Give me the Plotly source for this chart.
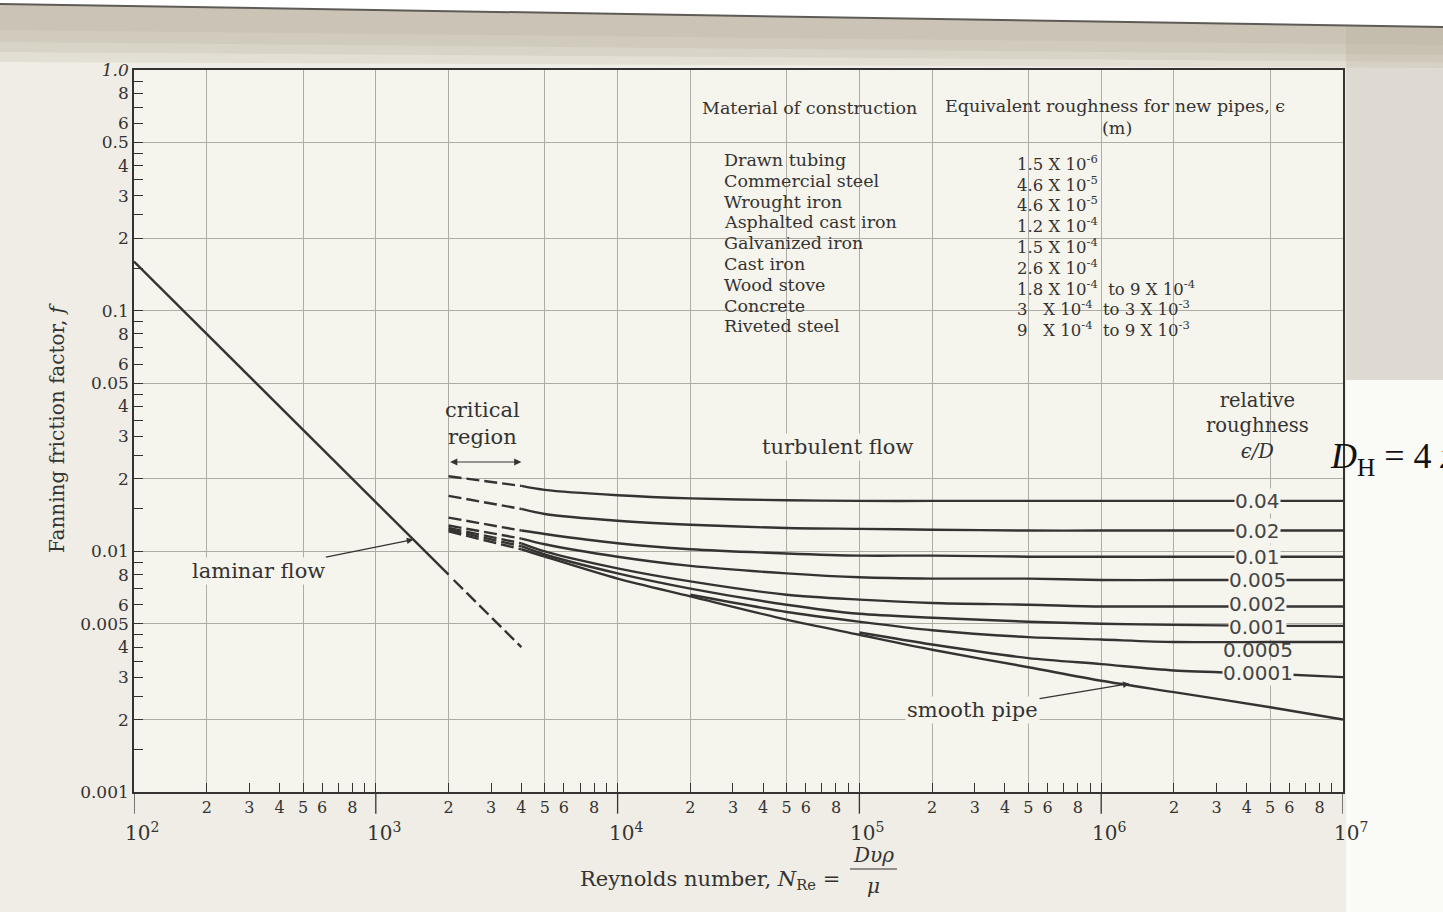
import numpy as np
import plotly.graph_objects as go

# ---------------- data ----------------
# laminar flow line (f = 16/Re), solid then dashed into the critical region
re_laminar = [100, 2000]
f_laminar = [0.16, 0.008]
re_laminar_ext = [2100, 4000]
f_laminar_ext = [0.0076, 0.004]

# critical region (dashed) Re 2000 -> 4000
re_critical = [2000, 4000]
crit_0_04 = [0.0205, 0.0187]
crit_0_02 = [0.0170, 0.0150]
crit_0_01 = [0.0138, 0.0122]
crit_0_005 = [0.0128, 0.0113]
crit_0_002 = [0.0125, 0.0108]
crit_0_001 = [0.0123, 0.0105]
crit_smooth = [0.0121, 0.0102]

# turbulent flow curves
re_turb = [4e3, 5e3, 1e4, 2e4, 5e4, 1e5, 2e5, 5e5, 1e6, 2e6, 5e6, 1e7]
f_0_04 = [0.0187, 0.0180, 0.0171, 0.0166, 0.0163, 0.0162, 0.0162, 0.0162, 0.0162, 0.0162, 0.0162, 0.0162]
f_0_02 = [0.0150, 0.0143, 0.0134, 0.0129, 0.0125, 0.0124, 0.0123, 0.0122, 0.0122, 0.0122, 0.0122, 0.0122]
f_0_01 = [0.0122, 0.0118, 0.0108, 0.0102, 0.0098, 0.0096, 0.0096, 0.0095, 0.0095, 0.0095, 0.0095, 0.0095]
f_0_005 = [0.0113, 0.0107, 0.0095, 0.0087, 0.0081, 0.0078, 0.0077, 0.0077, 0.0076, 0.0076, 0.0076, 0.0076]
f_0_002 = [0.0108, 0.0100, 0.0085, 0.0075, 0.0066, 0.0063, 0.0061, 0.0060, 0.0059, 0.0059, 0.0059, 0.0059]
f_0_001 = [0.0105, 0.0097, 0.0081, 0.0070, 0.0060, 0.0055, 0.0053, 0.0051, 0.0050, 0.00495, 0.0049, 0.0049]
f_smooth = [0.0102, 0.0095, 0.0077, 0.0065, 0.0052, 0.0045, 0.0039, 0.0033, 0.0029, 0.0026, 0.00225, 0.0020]

re_0_0005 = [2e4, 5e4, 1e5, 2e5, 5e5, 1e6, 2e6, 5e6, 1e7]
f_0_0005 = [0.0066, 0.0056, 0.0051, 0.0047, 0.0044, 0.0043, 0.0042, 0.0042, 0.0042]
re_0_0001 = [1e5, 2e5, 5e5, 1e6, 2e6, 5e6, 1e7]
f_0_0001 = [0.0046, 0.0041, 0.0036, 0.0034, 0.0032, 0.0031, 0.0030]

rough_labels = ["0.04", "0.02", "0.01", "0.005", "0.002", "0.001", "0.0005", "0.0001"]

# table of materials
materials = ["Drawn tubing", "Commercial steel", "Wrought iron", "Asphalted cast iron",
             "Galvanized iron", "Cast iron", "Wood stove", "Concrete", "Riveted steel"]
roughness = ["1.5 X 10<sup>-6</sup>", "4.6 X 10<sup>-5</sup>", "4.6 X 10<sup>-5</sup>",
             "1.2 X 10<sup>-4</sup>", "1.5 X 10<sup>-4</sup>", "2.6 X 10<sup>-4</sup>",
             "1.8 X 10<sup>-4</sup>  to 9 X 10<sup>-4</sup>",
             "3    X 10<sup>-4</sup>  to 3 X 10<sup>-3</sup>",
             "9    X 10<sup>-4</sup>  to 9 X 10<sup>-3</sup>"]

# axis ticks
x_decades = [1e2, 1e3, 1e4, 1e5, 1e6, 1e7]
x_tick_mantissas = [2, 3, 4, 5, 6, 7, 8, 9]
x_labeled_mantissas = [2, 3, 4, 5, 6, 8]
y_decades = [0.001, 0.01, 0.1]
y_tick_mantissas = [1, 1.5, 2, 2.5, 3, 3.5, 4, 4.5, 5, 6, 7, 8, 9]
y_labeled_digits = [2, 3, 4, 6, 8]
grid_mantissas = [1, 2, 5]

# ---------------- styling ----------------
INK = "#343331"
GRID = "#aeaca5"
PAPER = "#efede5"
PLOTBG = "#f5f4ed"
SERIF = "DejaVu Serif"
SANS = "DejaVu Sans"

L, R, T, B = 134, 100, 70, 120
W, H = 1443, 912
PW, PH = W - L - R, H - T - B


def px_x(px):
    return (px - L) / PW


def px_y(py):
    return (H - B - py) / PH


def note(**kw):
    kw.setdefault("xanchor", "center")
    kw.setdefault("yanchor", "middle")
    kw.setdefault("showarrow", False)
    return kw


def poly(points):
    return "M " + " L ".join(f"{px_x(a):.5f},{px_y(b):.5f}" for a, b in points) + " Z"


fig = go.Figure()

line_style = dict(color=INK, width=2.4)
dash_style = dict(color=INK, width=2.4, dash="13px,5px")

fig.add_trace(go.Scatter(x=re_laminar, y=f_laminar, mode="lines", line=line_style, hoverinfo="skip"))
fig.add_trace(go.Scatter(x=re_laminar_ext, y=f_laminar_ext, mode="lines", line=dash_style, hoverinfo="skip"))

for crit in [crit_0_04, crit_0_02, crit_0_01, crit_0_005, crit_0_002, crit_0_001, crit_smooth]:
    fig.add_trace(go.Scatter(x=re_critical, y=crit, mode="lines", line=dash_style, hoverinfo="skip"))

curves = [
    (re_turb, f_0_04), (re_turb, f_0_02), (re_turb, f_0_01), (re_turb, f_0_005),
    (re_turb, f_0_002), (re_turb, f_0_001), (re_0_0005, f_0_0005), (re_0_0001, f_0_0001),
]
for rx, fy in curves + [(re_turb, f_smooth)]:
    fig.add_trace(go.Scatter(x=rx, y=fy, mode="lines",
                             line=dict(color=INK, width=2.4, shape="spline", smoothing=0.8),
                             hoverinfo="skip"))

# ---------------- axes ----------------
x_tickvals, x_ticktext = [], []
for d in x_decades:
    x_tickvals.append(d)
    x_ticktext.append("")
    if d < 1e7:
        for m in x_tick_mantissas:
            x_tickvals.append(m * d)
            x_ticktext.append(str(m) if m in x_labeled_mantissas else "")
x_grid = [m * d for d in x_decades[:-1] for m in grid_mantissas] + [x_decades[-1]]

y_tickvals, y_ticktext = [], []
for d in y_decades:
    for m in y_tick_mantissas:
        y_tickvals.append(m * d)
        if m == 1 or m == 5:
            y_ticktext.append(f"{m * d:g}")
        elif m in y_labeled_digits:
            y_ticktext.append(str(m))
        else:
            y_ticktext.append("")
y_tickvals.append(1.0)
y_ticktext.append("<i>1.0</i>")
y_grid = [m * d for d in y_decades for m in grid_mantissas] + [1.0]

fig.update_xaxes(
    type="log", range=[2, 7], showgrid=False,
    tickmode="array", tickvals=x_tickvals, ticktext=x_ticktext,
    ticks="inside", ticklen=9, tickwidth=1.2, tickcolor=INK,
    tickfont=dict(family=SERIF, size=16, color=INK),
    showline=True, linecolor=INK, linewidth=1.6, mirror=True,
    minor=dict(tickmode="array", tickvals=x_grid, showgrid=True, gridcolor=GRID, gridwidth=1.2, ticks=""),
)
fig.update_yaxes(
    type="log", range=[-3, 0], showgrid=False,
    tickmode="array", tickvals=y_tickvals, ticktext=y_ticktext,
    ticks="inside", ticklen=9, tickwidth=1.2, tickcolor=INK,
    tickfont=dict(family=SERIF, size=17, color=INK),
    showline=True, linecolor=INK, linewidth=1.6, mirror=True,
    minor=dict(tickmode="array", tickvals=y_grid, showgrid=True, gridcolor=GRID, gridwidth=1.2, ticks=""),
)

shapes = []
annotations = []

# page decoration (scan look): tan shading below a slanted page edge, white above it
shapes.append(dict(type="rect", xref="paper", yref="paper", x0=px_x(1346), x1=px_x(W),
                   y0=px_y(380), y1=px_y(20), fillcolor="#dfdad1", line=dict(width=0), layer="below"))
for bottom_left, bottom_right in [(30, 45), (42, 55), (52, 62), (62, 68)]:
    shapes.append(dict(type="path", xref="paper", yref="paper",
                       path=poly([(0, 4), (W, 27), (W, bottom_right), (0, bottom_left)]),
                       fillcolor="#b5aa98", opacity=0.2, line=dict(width=0), layer="below"))
shapes.append(dict(type="rect", xref="paper", yref="paper", x0=px_x(1346), x1=px_x(W),
                   y0=px_y(H), y1=px_y(380), fillcolor="#fafaf7", line=dict(width=0), layer="below"))
shapes.append(dict(type="path", xref="paper", yref="paper",
                   path=poly([(0, 0), (W, 0), (W, 27), (0, 4)]),
                   fillcolor="#ffffff", line=dict(width=0), layer="below"))
shapes.append(dict(type="line", xref="paper", yref="paper", x0=px_x(0), x1=px_x(W),
                   y0=px_y(4), y1=px_y(27), line=dict(color="#5e5b56", width=2), layer="below"))

# decade tick lines extending below the axis, with decade labels
for d in x_decades:
    shapes.append(dict(type="line", xref="x", yref="paper", x0=d, x1=d, y0=0, y1=-0.03,
                       line=dict(color=INK, width=1.3)))
    annotations.append(note(xref="x", yref="paper", x=np.log10(d), y=px_y(832), xshift=8,
                            text=f"10<sup>{int(np.log10(d))}</sup>",
                            font=dict(family=SERIF, size=20, color=INK)))

# masks over the gridlines (table area and label column)
shapes.append(dict(type="rect", xref="paper", yref="paper", x0=px_x(690), x1=px_x(1306),
                   y0=px_y(345), y1=px_y(86), fillcolor=PLOTBG, line=dict(width=0), layer="between"))
shapes.append(dict(type="rect", xref="paper", yref="paper", x0=px_x(1198), x1=px_x(1322),
                   y0=px_y(690), y1=px_y(388), fillcolor=PLOTBG, line=dict(width=0), layer="between"))

# table
annotations.append(note(xref="paper", yref="paper", x=px_x(700), y=px_y(108), xanchor="left",
                        text="Material of construction",
                        font=dict(family=SERIF, size=17.5, color=INK)))
annotations.append(note(xref="paper", yref="paper", x=px_x(943), y=px_y(106), xanchor="left",
                        text="Equivalent roughness for new pipes, ϵ",
                        font=dict(family=SERIF, size=17.5, color=INK)))
annotations.append(note(xref="paper", yref="paper", x=px_x(1117), y=px_y(128),
                        text="(m)", font=dict(family=SERIF, size=17.5, color=INK)))
for i, (mat, rough) in enumerate(zip(materials, roughness)):
    yy = px_y(160 + i * 20.8)
    annotations.append(note(xref="paper", yref="paper", x=px_x(722), y=yy, xanchor="left",
                            text=mat, font=dict(family=SERIF, size=17.5, color=INK)))
    annotations.append(note(xref="paper", yref="paper", x=px_x(1015), y=yy - 0.004, xanchor="left",
                            text=rough.replace("    ", "\u00a0\u00a0\u00a0").replace("  to", "\u00a0 to"),
                            font=dict(family=SERIF, size=16.5, color=INK)))

# relative roughness labels on the curves
label_re = 4.45e6
label_shift = {"0.002": 2, "0.001": -1, "0.0005": -8}
for lab, (rx, fy) in zip(rough_labels, curves):
    ly = np.interp(np.log10(label_re), np.log10(rx), np.log10(fy))
    extra = {} if lab == "0.0005" else dict(bgcolor=PLOTBG, borderpad=0)
    annotations.append(note(xref="x", yref="y", x=np.log10(label_re), y=ly,
                            yshift=label_shift.get(lab, 0), text=lab,
                            font=dict(family=SANS, size=20, color="#444"), **extra))

annotations.append(note(xref="x", yref="paper", x=np.log10(label_re), y=px_y(426),
                        text="relative<br>roughness<br><i>ϵ/D</i>",
                        font=dict(family=SERIF, size=19.5, color=INK)))

# flow regime labels
annotations.append(note(xref="x", yref="y", x=np.log10(1430), y=np.log10(16 / 1430),
                        ax=-155, ay=31, text="laminar flow", showarrow=True, arrowhead=2,
                        arrowsize=1.1, arrowwidth=1.2, arrowcolor=INK, bgcolor=PLOTBG,
                        font=dict(family=SERIF, size=21, color=INK)))
annotations.append(note(xref="x", yref="y", x=np.log10(1.31e6), y=np.log10(0.00282),
                        ax=-157, ay=26, text="smooth pipe", showarrow=True, arrowhead=2,
                        arrowsize=1.1, arrowwidth=1.2, arrowcolor=INK, bgcolor=PLOTBG,
                        font=dict(family=SERIF, size=21, color=INK)))
annotations.append(note(xref="x", yref="paper", x=np.log10(2750), y=px_y(423),
                        text="critical<br>region",
                        font=dict(family=SERIF, size=21, color=INK)))
annotations.append(note(xref="x", yref="paper", x=np.log10(4000), y=px_y(462),
                        ax=np.log10(2000), ay=0, axref="x", ayref="pixel",
                        text="", showarrow=True, arrowhead=2, arrowside="end+start",
                        arrowsize=1.2, arrowwidth=1.2, arrowcolor=INK))
annotations.append(note(xref="x", yref="paper", x=np.log10(8.15e4), y=px_y(447),
                        text="turbulent flow", bgcolor=PLOTBG,
                        font=dict(family=SERIF, size=21, color=INK)))

# axis titles
annotations.append(note(xref="paper", yref="paper", x=px_x(57), y=px_y(428), textangle=-90,
                        text="Fanning friction factor, <i>f</i>",
                        font=dict(family=SERIF, size=20, color=INK)))
annotations.append(note(xref="paper", yref="paper", x=px_x(842), y=px_y(880), xanchor="right",
                        text="Reynolds number, <i>N</i><sub>Re</sub> =",
                        font=dict(family=SERIF, size=21, color=INK)))
annotations.append(note(xref="paper", yref="paper", x=px_x(873), y=px_y(855),
                        text="<i>Dυρ</i>", font=dict(family=SERIF, size=20, color=INK)))
annotations.append(note(xref="paper", yref="paper", x=px_x(873), y=px_y(886),
                        text="<i>μ</i>", font=dict(family=SERIF, size=20, color=INK)))
shapes.append(dict(type="line", xref="paper", yref="paper", x0=px_x(850), x1=px_x(897),
                   y0=px_y(869), y1=px_y(869), line=dict(color=INK, width=1.2)))

# stray equation at the right page edge
annotations.append(note(xref="paper", yref="paper", x=px_x(1328), y=px_y(458), xanchor="left",
                        text="<i>D</i><sub>H</sub> = 4 <i>x</i>",
                        font=dict(family="Liberation Serif", size=36, color="#111")))

fig.update_layout(
    width=W, height=H, autosize=False,
    margin=dict(l=L, r=R, t=T, b=B),
    paper_bgcolor=PAPER, plot_bgcolor=PLOTBG,
    showlegend=False,
    shapes=shapes, annotations=annotations,
)

fig.write_html("out.html")
